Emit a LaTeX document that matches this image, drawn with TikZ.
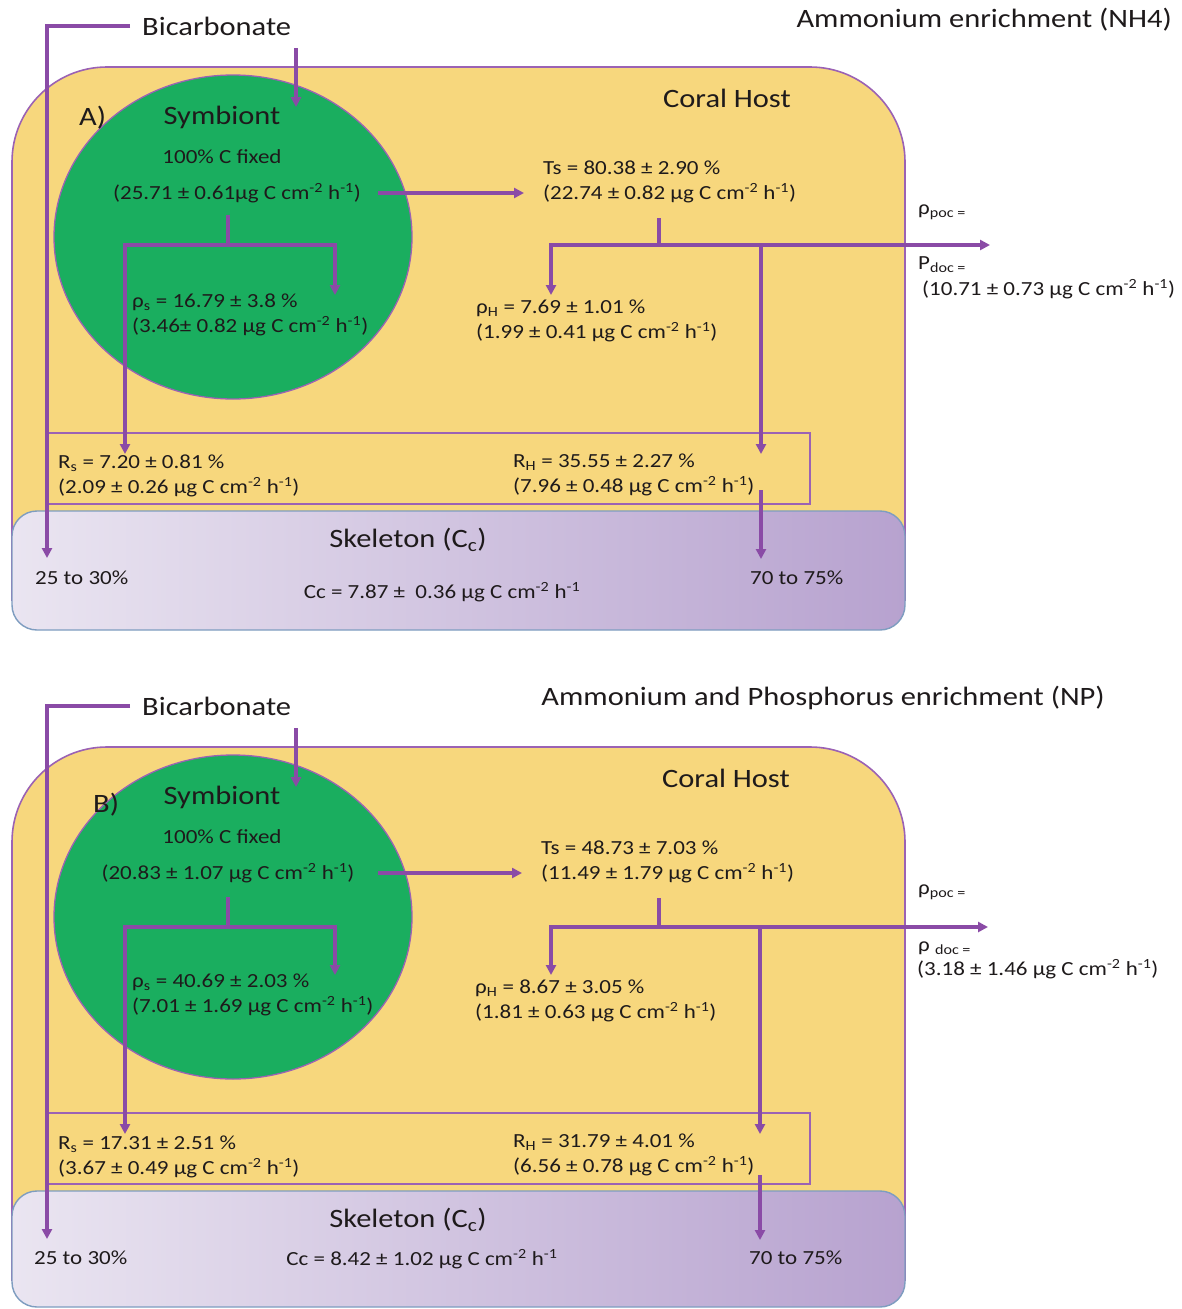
\documentclass[tikz,border=0pt]{standalone}
\usepackage{fontspec}
\setmainfont[FakeStretch=1.15]{Carlito}
\usetikzlibrary{arrows.meta,shapes.geometric}
\definecolor{hostY}{HTML}{F7D77D}
\definecolor{symG}{HTML}{1AAE5F}
\definecolor{arrP}{HTML}{8A4BA6}
\definecolor{edgeP}{HTML}{9B62B4}
\definecolor{skL}{HTML}{EAE5F1}
\definecolor{skR}{HTML}{B7A2CF}
\definecolor{skE}{HTML}{7E9DC0}
\definecolor{txtc}{HTML}{1E1A1B}
\newcommand{\uflux}{µg C cm\textsuperscript{-2} h\textsuperscript{-1}}
\tikzset{
  txtN/.style={text=txtc, inner sep=0pt, font=\fontsize{20}{25}\selectfont},
  lblW/.style={txtN, anchor=west, align=left},
  bigT/.style={text=txtc, inner sep=0pt, font=\fontsize{26.5}{30}\selectfont},
  flowA/.style={draw=arrP, line width=3.1pt, -{Triangle[length=10pt,width=10pt]}},
  flowL/.style={draw=arrP, line width=3.1pt},
  hostS/.style={fill=hostY, draw=edgeP, line width=1.6pt, rounded corners=95pt},
  symS/.style={ellipse, fill=symG, draw=edgeP, line width=1.3pt, inner sep=0pt},
  respS/.style={draw=edgeP, line width=1.3pt, inner sep=0pt},
  skelS/.style={left color=skL, right color=skR, draw=skE, line width=1.4pt, rounded corners=25pt}
}
\begin{document}
\begin{tikzpicture}[x=1pt,y=-1pt]
\useasboundingbox (0,0) rectangle (1181,1309);
\fill[white] (0,0) rectangle (1181,1309);

% ================= PANEL A =================
\begin{scope}
\clip (0,0) rectangle (1181,600);
\path[hostS] (12,67) rectangle (905,760);
\end{scope}
\node[symS, minimum width=358pt, minimum height=324pt] (a-sym) at (233,237) {};
\node[respS, minimum width=762pt, minimum height=71pt] (a-resp) at (429,468.5) {};
\path[skelS] (12,511) rectangle (905,630);

\node[bigT, anchor=east] (a-title) at (1172,20) {Ammonium enrichment (NH4)};
\node[bigT, anchor=west] (a-bic) at (142,26) {Bicarbonate};
\node[bigT] (a-host) at (727,98) {Coral Host};
\node[bigT, anchor=west] (a-lab) at (79,118) {A)};
\node[bigT] (a-symt) at (222,117) {Symbiont};
\node[txtN] (a-fix) at (222,157) {100\% C fixed};
\node[txtN] (a-flux) at (237,193) {(25.71 ± 0.61\uflux)};
\node[lblW] (a-ts) at (543,182) {Ts = 80.38 ± 2.90 \%\\(22.74 ± 0.82 \uflux)};
\node[lblW] (a-ps) at (132,315) {ρ\textsubscript{s} = 16.79 ± 3.8 \%\\(3.46± 0.82 \uflux)};
\node[lblW] (a-ph) at (476,321) {ρ\textsubscript{H} = 7.69 ± 1.01 \%\\(1.99 ± 0.41 \uflux)};
\node[lblW] (a-poc) at (918,212) {ρ\textsubscript{poc =}};
\node[lblW] (a-doc) at (918,265) {P\textsubscript{doc =}};
\node[lblW] (a-docv) at (922,289) {(10.71 ± 0.73 \uflux)};
\node[lblW] (a-rs) at (58,476) {R\textsubscript{s} = 7.20 ± 0.81 \%\\(2.09 ± 0.26 \uflux)};
\node[lblW] (a-rh) at (513,475) {R\textsubscript{H} = 35.55 ± 2.27 \%\\(7.96 ± 0.48 \uflux)};
\node[bigT] (a-skel) at (408,540) {Skeleton (C\textsubscript{c})};
\node[lblW] (a-p25) at (35,578) {25 to 30\%};
\node[txtN] (a-cc) at (442,592) {Cc = 7.87 ±~ 0.36 µg C cm\textsuperscript{-2} h\textsuperscript{-1}};
\node[lblW] (a-p70) at (750,578) {70 to 75\%};

\coordinate (a-bicL) at (130,26);
\coordinate (a-bicE) at (47,558);
\coordinate (a-bicS) at (296,48);
\coordinate (a-bicT) at (296,107);
\coordinate (a-fluxS) at (378,193);
\coordinate (a-fluxT) at (524,193);
\coordinate (a-sj0) at (228,215);
\coordinate (a-sj) at (228,245);
\coordinate (a-psT) at (335,295);
\coordinate (a-rsT) at (125,454);
\coordinate (a-tj0) at (659,218);
\coordinate (a-tj) at (659,245);
\coordinate (a-phT) at (551,295);
\coordinate (a-outT) at (990,245);
\coordinate (a-rhJ) at (761,245);
\coordinate (a-rhT) at (761,454);
\coordinate (a-skS) at (761,490);
\coordinate (a-skT) at (761,559);

\draw[flowA] (a-bicL) -| (a-bicE);
\draw[flowA] (a-bicS) -- (a-bicT);
\draw[flowA] (a-fluxS) -- (a-fluxT);
\draw[flowL] (a-sj0) -- (a-sj);
\draw[flowA] (a-sj) -| (a-psT);
\draw[flowA] (a-sj) -| (a-rsT);
\draw[flowL] (a-tj0) -- (a-tj);
\draw[flowA] (a-tj) -| (a-phT);
\draw[flowA] (a-tj) -- (a-outT);
\draw[flowA] (a-rhJ) -- (a-rhT);
\draw[flowA] (a-skS) -- (a-skT);

% ================= PANEL B =================
\begin{scope}
\clip (0,680) rectangle (1181,1280);
\path[hostS] (12,747) rectangle (905,1440);
\end{scope}
\node[symS, minimum width=358pt, minimum height=324pt] (b-sym) at (233,917) {};
\node[respS, minimum width=762pt, minimum height=71pt] (b-resp) at (429,1148.5) {};
\path[skelS] (12,1191) rectangle (905,1307);

\node[bigT, anchor=east] (b-title) at (1105,698) {Ammonium and Phosphorus enrichment (NP)};
\node[bigT, anchor=west] (b-bic) at (142,706) {Bicarbonate};
\node[bigT] (b-host) at (726,778) {Coral Host};
\node[bigT, anchor=west] (b-lab) at (93,805) {B)};
\node[bigT] (b-symt) at (222,797) {Symbiont};
\node[txtN] (b-fix) at (222,837) {100\% C fixed};
\node[txtN] (b-flux) at (228,873) {(20.83 ± 1.07 \uflux)};
\node[lblW] (b-ts) at (541,862) {Ts = 48.73 ± 7.03 \%\\(11.49 ± 1.79 \uflux)};
\node[lblW] (b-ps) at (132,995) {ρ\textsubscript{s} = 40.69 ± 2.03 \%\\(7.01 ± 1.69 \uflux)};
\node[lblW] (b-ph) at (475,1001) {ρ\textsubscript{H} = 8.67 ± 3.05 \%\\(1.81 ± 0.63 \uflux)};
\node[lblW] (b-poc) at (918,892) {ρ\textsubscript{poc =}};
\node[lblW] (b-doc) at (918,948) {ρ \textsubscript{doc =}};
\node[lblW] (b-docv) at (917,969) {(3.18 ± 1.46 \uflux)};
\node[lblW] (b-rs) at (58,1157) {R\textsubscript{s} = 17.31 ± 2.51 \%\\(3.67 ± 0.49 \uflux)};
\node[lblW] (b-rh) at (513,1155) {R\textsubscript{H} = 31.79 ± 4.01 \%\\(6.56 ± 0.78 \uflux)};
\node[bigT] (b-skel) at (408,1220) {Skeleton (C\textsubscript{c})};
\node[lblW] (b-p25) at (34,1258) {25 to 30\%};
\node[txtN] (b-cc) at (422,1259) {Cc = 8.42 ± 1.02 µg C cm\textsuperscript{-2} h\textsuperscript{-1}};
\node[lblW] (b-p70) at (749,1258) {70 to 75\%};

\coordinate (b-bicL) at (130,706);
\coordinate (b-bicE) at (47,1239);
\coordinate (b-bicS) at (296,728);
\coordinate (b-bicT) at (296,787);
\coordinate (b-fluxS) at (378,873);
\coordinate (b-fluxT) at (522,873);
\coordinate (b-sj0) at (228,897);
\coordinate (b-sj) at (228,927);
\coordinate (b-psT) at (335,975);
\coordinate (b-rsT) at (125,1134);
\coordinate (b-tj0) at (659,898);
\coordinate (b-tj) at (659,927);
\coordinate (b-phT) at (551,975);
\coordinate (b-outT) at (988,927);
\coordinate (b-rhJ) at (760,927);
\coordinate (b-rhT) at (760,1134);
\coordinate (b-skS) at (760,1175);
\coordinate (b-skT) at (760,1240);

\draw[flowA] (b-bicL) -| (b-bicE);
\draw[flowA] (b-bicS) -- (b-bicT);
\draw[flowA] (b-fluxS) -- (b-fluxT);
\draw[flowL] (b-sj0) -- (b-sj);
\draw[flowA] (b-sj) -| (b-psT);
\draw[flowA] (b-sj) -| (b-rsT);
\draw[flowL] (b-tj0) -- (b-tj);
\draw[flowA] (b-tj) -| (b-phT);
\draw[flowA] (b-tj) -- (b-outT);
\draw[flowA] (b-rhJ) -- (b-rhT);
\draw[flowA] (b-skS) -- (b-skT);
\end{tikzpicture}
\end{document}
